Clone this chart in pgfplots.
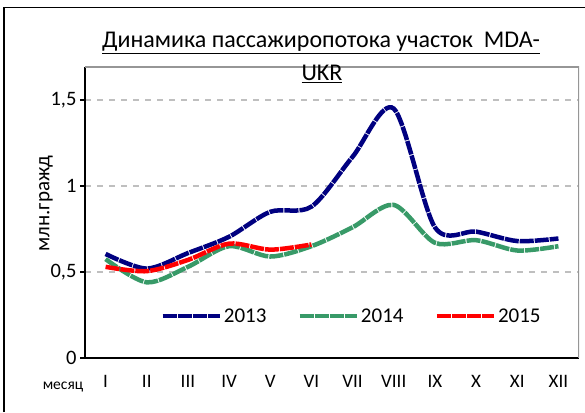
\documentclass[border=0pt]{standalone}
\usepackage{pgfplots}
\pgfplotsset{compat=1.18}
\usepackage{fontspec}
\setmainfont{Carlito}
\definecolor{c13}{RGB}{0,0,128}
\definecolor{c14}{RGB}{56,154,104}
\definecolor{c15}{RGB}{255,0,0}
\definecolor{gridc}{RGB}{191,191,191}
\definecolor{framec}{RGB}{150,150,150}
\begin{document}
\begin{tikzpicture}[x=1pt,y=1pt]
\useasboundingbox (0,0) rectangle (585,412);
\draw[line width=1.5pt] (4,0) -- (4,404.5) -- (585,404.5);
\begin{axis}[
  at={(85pt,54pt)}, anchor=south west,
  width=494pt, height=291pt, scale only axis,
  xmin=0.5, xmax=12.5, ymin=0, ymax=1.692,
  axis x line*=bottom, axis y line*=left,
  axis line style={line width=1.6pt, black},
  xtick={1,...,12},
  xticklabels={I,II,III,IV,V,VI,VII,VIII,IX,X,XI,XII},
  xtick style={draw=none},
  minor xtick={0.5,1.5,...,12.5},
  minor x tick style={line width=1.4pt, black},
  ytick={0,0.5,1,1.5}, yticklabels={0,{0,5},1,{1,5}},
  y tick style={line width=1.4pt, black},
  tick align=outside,
  major tick length=5pt, minor tick length=5pt,
  ymajorgrids,
  major grid style={gridc, line width=1.8pt, dash pattern=on 6pt off 6pt},
  yticklabel style={font=\fontsize{20.5}{24}\selectfont},
  xticklabel style={font=\fontsize{19}{22}\selectfont, yshift=-9pt},
  legend style={draw=none, fill=none, at={(0.5395,0.144)}, anchor=center,
    legend columns=3, font=\fontsize{21}{25}\selectfont,
    nodes={inner sep=2pt},
    /tikz/every even column/.append style={column sep=29pt}},
  legend image code/.code={\draw[#1] (0pt,0pt) -- (57pt,0pt);},
]
\draw[framec, line width=1.6pt] (rel axis cs:0,1) -- (rel axis cs:1,1) -- (rel axis cs:1,0);
\addplot[c13, line width=4.5pt, smooth, dash pattern=on 14pt off 1pt] coordinates {
(1,0.605) (2,0.52) (3,0.61) (4,0.705) (5,0.85) (6,0.88) (7,1.17) (8,1.45) (9,0.76) (10,0.735) (11,0.68) (12,0.695)};
\addlegendentry{2013}
\addplot[c14, line width=4.5pt, smooth, dash pattern=on 14pt off 1pt] coordinates {
(1,0.575) (2,0.44) (3,0.53) (4,0.65) (5,0.59) (6,0.65) (7,0.76) (8,0.89) (9,0.67) (10,0.685) (11,0.625) (12,0.65)};
\addlegendentry{2014}
\addplot[c15, line width=4.5pt, smooth, dash pattern=on 14pt off 1pt] coordinates {
(1,0.53) (2,0.505) (3,0.57) (4,0.665) (5,0.63) (6,0.66)};
\addlegendentry{2015}
\end{axis}
\node[anchor=base, inner sep=0pt, font=\fontsize{24}{28}\selectfont] at (321,364) {\underline{Динамика пассажиропотока участок\ \ MDA-}};
\node[anchor=base, inner sep=0pt, font=\fontsize{24}{28}\selectfont] at (322,331) {\underline{UKR}};
\node[rotate=90, font=\fontsize{21}{25}\selectfont] at (46,208.5) {млн.гражд};
\node[anchor=base, inner sep=0pt, font=\fontsize{15.5}{18}\selectfont] at (63,23) {месяц};
\end{tikzpicture}
\end{document}
